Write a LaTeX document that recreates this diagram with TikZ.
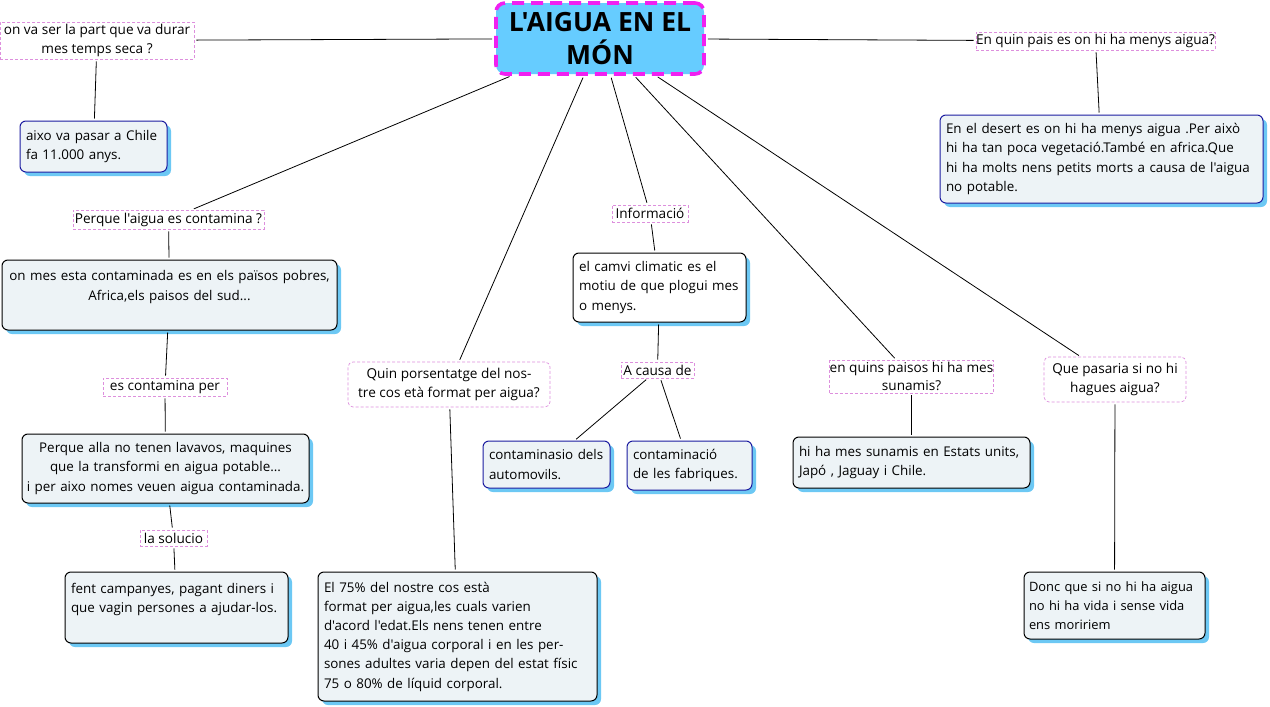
\documentclass[tikz,border=0pt]{standalone}
\usepackage{fontspec}
\newfontfamily\myfont{Open Sans}
\usetikzlibrary{shadows}
\definecolor{titleblue}{HTML}{66CCFF}
\definecolor{shadowblue}{HTML}{6CC8F4}
\definecolor{boxfill}{HTML}{EDF3F6}
\definecolor{navy}{HTML}{1C1CA0}
\definecolor{lblpink}{HTML}{DD8FDD}
\definecolor{titlemag}{HTML}{F020F0}
\newcommand{\boxfont}{\myfont\fontsize{13.4}{19.2}\selectfont}
\newcommand{\lblfont}{\myfont\fontsize{13.6}{18.5}\selectfont}
\tikzset{
  box/.style={draw=black, line width=1pt, rounded corners=6pt, fill=boxfill,
    inner xsep=6pt, inner ysep=2pt, font=\boxfont,
    drop shadow={shadow xshift=4pt, shadow yshift=-4pt, fill=shadowblue, opacity=1}},
  navybox/.style={box, draw=navy},
  lbl/.style={draw=lblpink, dash pattern=on 3pt off 2pt, line width=0.7pt,
    inner sep=0pt, font=\lblfont, align=center, fill=white},
  conn/.style={draw=black, line width=0.8pt, shorten <=2pt, shorten >=2pt},
  titlebox/.style={draw=titlemag, line width=3.6pt, dash pattern=on 12pt off 7pt,
    rounded corners=9pt, fill=titleblue, inner sep=0pt, align=center,
    font=\myfont\fontsize{26.5}{33}\selectfont\bfseries}
}
\begin{document}
\begin{tikzpicture}[x=1pt,y=-1pt]
\useasboundingbox (0,0) rectangle (1270,707);
\fill[white] (0,0) rectangle (1270,707);

% title
\node[titlebox, minimum width=208pt, minimum height=71pt] (title) at (600,38.5) {L'AIGUA EN EL\\MÓN};

% labels
\node[lbl, minimum width=194pt, minimum height=37pt] (l1) at (97,40.5) {on va ser la part que va durar\\mes temps seca ?};
\node[lbl, minimum width=239pt, minimum height=18pt] (l2) at (1095.5,41) {En quin pais es on hi ha menys aigua?};
\node[lbl, minimum width=191pt, minimum height=19pt] (l3) at (168.5,219.5) {Perque l'aigua es contamina ?};
\node[lbl, minimum width=124pt, minimum height=18pt] (l4) at (165,387) {es contamina per};
\node[lbl, minimum width=67pt, minimum height=16pt] (l5) at (173.5,538) {la solucio};
\node[lbl, rounded corners=5pt, minimum width=202pt, minimum height=45pt] (l6) at (449,384.5) {Quin porsentatge del nos-\\tre cos età format per aigua?};
\node[lbl, minimum width=76pt, minimum height=17pt] (l7) at (650,213.5) {Informació};
\node[lbl, minimum width=73pt, minimum height=16pt] (l8) at (657.5,370) {A causa de};
\node[lbl, minimum width=163pt, minimum height=33pt] (l9) at (911.5,376.5) {en quins paisos hi ha mes\\sunamis?};
\node[lbl, rounded corners=5pt, minimum width=142pt, minimum height=45pt] (l10) at (1115,379.5) {Que pasaria si no hi\\hagues aigua?};

% boxes
\node[navybox, minimum width=147pt, minimum height=51pt, text width=135pt, align=left] (b1) at (93.5,146.5) {aixo va pasar a Chile\\fa 11.000 anys.};
\node[navybox, minimum width=323pt, minimum height=88pt, text width=311pt, align=left] (b2) at (1101.5,159) {En el desert es on hi ha menys aigua .Per això\\hi ha tan poca vegetació.També en africa.Que\\hi ha molts nens petits morts a causa de l'aigua\\no potable.};
\node[box, minimum width=335pt, minimum height=70pt, inner xsep=3pt, text width=329pt, align=center] (b3) at (169.5,295) {on mes esta contaminada es en els països pobres,\\Africa,els paisos del sud...\\\mbox{}};
\node[box, minimum width=287pt, minimum height=69pt, inner xsep=3pt, text width=281pt, align=center] (b4) at (165.5,468.5) {Perque alla no tenen lavavos, maquines\\que la transformi en aigua potable...\\i per aixo nomes veuen aigua contaminada.};
\node[box, minimum width=223pt, minimum height=71pt, text width=211pt, align=left] (b5) at (176.5,607.5) {fent campanyes, pagant diners i\\que vagin persones a ajudar-los.\\\mbox{}};
\node[box, minimum width=279pt, minimum height=129pt, text width=267pt, align=left] (b6) at (457.5,636.5) {El 75\% del nostre cos està\\format per aigua,les cuals varien\\d'acord l'edat.Els nens tenen entre\\40 i 45\% d'aigua corporal i en les per-\\sones adultes varia depen del estat físic\\75 o 80\% de líquid corporal.};
\node[box, fill=white, minimum width=173pt, minimum height=69pt, text width=161pt, align=left] (b7) at (659.5,287.5) {el camvi climatic es el\\motiu de que plogui mes\\o menys.};
\node[navybox, minimum width=127pt, minimum height=47pt, text width=115pt, align=left] (b8) at (546.5,464.5) {contaminasio dels\\automovils.};
\node[navybox, minimum width=125pt, minimum height=49pt, text width=113pt, align=left] (b9) at (689.5,465.5) {contaminació\\de les fabriques.};
\node[box, minimum width=237pt, minimum height=51pt, text width=225pt, align=left] (b10) at (911.5,462.5) {hi ha mes sunamis en Estats units,\\Japó , Jaguay i Chile.};
\node[box, minimum width=181pt, minimum height=67pt, inner xsep=5pt, text width=171pt, align=left, font=\myfont\fontsize{12.9}{19.2}\selectfont] (b11) at (1114.5,605.5) {Donc que si no hi ha aigua\\no hi ha vida i sense vida\\ens moririem};

% connectors
\draw[conn] (title) -- (l1);
\draw[conn] (title) -- (l2);
\draw[conn] (title) -- (l3);
\draw[conn] (title) -- (l6);
\draw[conn] (title) -- (l7);
\draw[conn] (title) -- (l9);
\draw[conn] (title) -- (l10);
\draw[conn] (l1) -- (b1);
\draw[conn] (l2) -- (b2);
\draw[conn] (l3) -- (b3);
\draw[conn] (b3) -- (l4);
\draw[conn] (l4) -- (b4);
\draw[conn] (b4) -- (l5);
\draw[conn] (l5) -- (b5);
\draw[conn] (l6) -- (b6);
\draw[conn] (l7) -- (b7);
\draw[conn] (b7) -- (l8);
\draw[conn] (l8) -- (b8);
\draw[conn] (l8) -- (b9);
\draw[conn] (l9) -- (b10);
\draw[conn] (l10) -- (b11);
\end{tikzpicture}
\end{document}
